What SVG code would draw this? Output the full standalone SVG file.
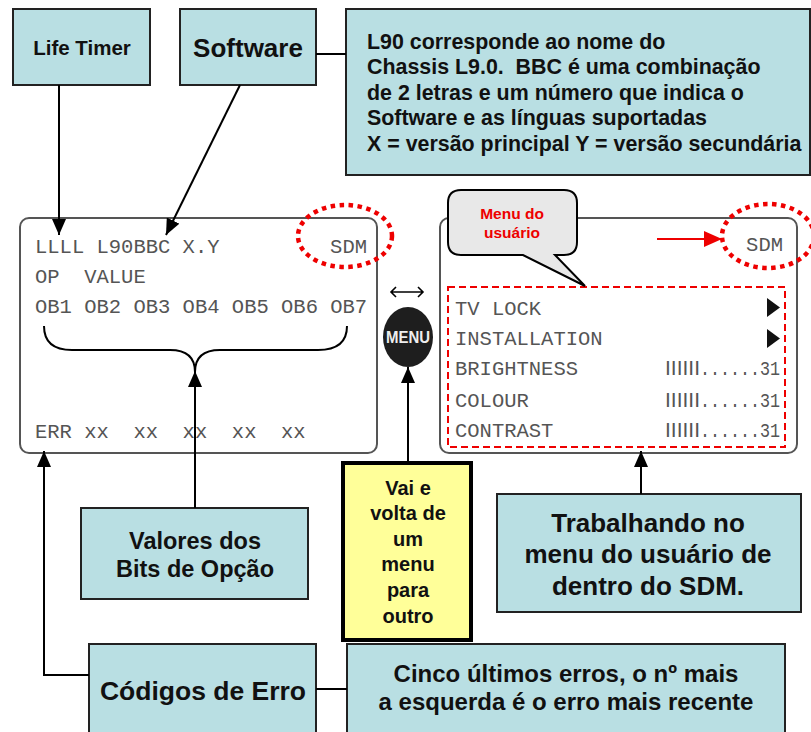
<svg xmlns="http://www.w3.org/2000/svg" width="811" height="732" viewBox="0 0 811 732">
  <style>
    .box { fill: #b9dfe3; stroke: #222; stroke-width: 2; }
    .note { fill: #ffff99; stroke: #000; stroke-width: 4; }
    .lbl { font-family: "Liberation Sans", Arial, sans-serif; font-weight: bold; fill: #111; text-anchor: middle; }
    .lft { font-family: "Liberation Sans", Arial, sans-serif; font-weight: bold; fill: #111; font-size: 21.4px; }
    .scr { fill: #fff; stroke: #555; stroke-width: 2; }
    .mono { font-family: "Liberation Mono", "Courier New", monospace; font-size: 20.5px; fill: #555; }
    .bar { font-family: "Liberation Sans", Arial, sans-serif; font-size: 21px; fill: #555; }
    .wire { fill: none; stroke: #000; stroke-width: 2; }
    .dots { fill: none; stroke: #e00; stroke-width: 4.5; stroke-dasharray: 4.5 4.5; }
    .red { font-family: "Liberation Sans", Arial, sans-serif; font-weight: bold; font-size: 15.5px; fill: #e00; text-anchor: middle; }
  </style>
  <defs>
    <marker id="ah" markerUnits="userSpaceOnUse" markerWidth="16" markerHeight="14" refX="16" refY="7" orient="auto">
      <path d="M0,0 L16,7 L0,14 Z" fill="#000"/>
    </marker>
    <marker id="ahRed" markerUnits="userSpaceOnUse" markerWidth="18" markerHeight="16" refX="18" refY="8" orient="auto">
      <path d="M0,0 L18,8 L0,16 Z" fill="#e00"/>
    </marker>
  </defs>

  <rect width="811" height="732" fill="#fff"/>

  <!-- left SDM screen -->
  <g id="screen-sdm">
    <rect class="scr" x="20" y="218" width="357" height="235" rx="9"/>
    <text class="mono" x="35" y="253">LLLL L90BBC X.Y</text>
    <text class="mono" x="367" y="253" text-anchor="end">SDM</text>
    <text class="mono" x="35" y="283" xml:space="preserve">OP  VALUE</text>
    <text class="mono" x="35" y="313">OB1 OB2 OB3 OB4 OB5 OB6 OB7</text>
    <text class="mono" x="35" y="438" xml:space="preserve">ERR xx  xx  xx  xx  xx</text>
    <path class="wire" d="M44,326 Q44,350 72,350 L170,350 Q195,350 195,372 Q195,350 220,350 L318,350 Q347,350 347,326"/>
    <ellipse class="dots" cx="345" cy="236" rx="47" ry="31"/>
  </g>

  <!-- right user-menu screen -->
  <g id="screen-menu">
    <rect class="scr" x="440" y="218" width="357" height="235" rx="9"/>
    <text class="mono" x="783" y="251" text-anchor="end">SDM</text>
    <ellipse class="dots" cx="768" cy="236" rx="46" ry="32"/>
    <rect x="448" y="287" width="337" height="160" fill="none" stroke="#e00" stroke-width="2" stroke-dasharray="7 4"/>
    <text class="mono" x="455" y="315">TV LOCK</text>
    <text class="mono" x="455" y="345">INSTALLATION</text>
    <text class="mono" x="455" y="375">BRIGHTNESS</text>
    <text class="mono" x="455" y="407">COLOUR</text>
    <text class="mono" x="455" y="437">CONTRAST</text>
    <polygon points="767,298 780,307.5 767,317" fill="#111"/>
    <polygon points="767,329 780,338.5 767,348" fill="#111"/>
    <text class="bar" x="665" y="375">IIIIII</text>
    <text class="mono" x="700" y="375" textLength="80" lengthAdjust="spacingAndGlyphs">......31</text>
    <text class="bar" x="665" y="407">IIIIII</text>
    <text class="mono" x="700" y="407" textLength="80" lengthAdjust="spacingAndGlyphs">......31</text>
    <text class="bar" x="665" y="437">IIIIII</text>
    <text class="mono" x="700" y="437" textLength="80" lengthAdjust="spacingAndGlyphs">......31</text>
  </g>

  <!-- callout bubble -->
  <g id="bubble">
    <path d="M461,190 H564 Q577,190 577,203 V242 Q577,255 564,255 H555 L585,286 L523,255 H461 Q448,255 448,242 V203 Q448,190 461,190 Z" fill="#e8e8e8" stroke="#000" stroke-width="2"/>
    <text class="red" x="512" y="219">Menu do</text>
    <text class="red" x="512" y="238">usuário</text>
  </g>

  <!-- menu button -->
  <g id="menu-button">
    <path d="M391,292 H423 M396,287 L391,292 L396,297 M418,287 L423,292 L418,297" fill="none" stroke="#000" stroke-width="1.6"/>
    <ellipse cx="408" cy="337" rx="25" ry="30" fill="#1e1e1e"/>
    <text x="408" y="343" font-family="Liberation Sans, Arial, sans-serif" font-weight="bold" font-size="16" fill="#eee" text-anchor="middle" textLength="44" lengthAdjust="spacingAndGlyphs">MENU</text>
  </g>

  <!-- label boxes -->
  <g id="life-timer">
    <rect class="box" x="13" y="9" width="137" height="76"/>
    <text class="lbl" x="82" y="55" font-size="20.5">Life Timer</text>
  </g>
  <g id="software">
    <rect class="box" x="180" y="9" width="136" height="76"/>
    <text class="lbl" x="248" y="57" font-size="26">Software</text>
  </g>
  <g id="software-note">
    <rect class="box" x="346" y="9" width="464" height="166"/>
    <text class="lft" x="367" y="49">L90 corresponde ao nome do</text>
    <text class="lft" x="367" y="74" xml:space="preserve">Chassis L9.0.  BBC é uma combinação</text>
    <text class="lft" x="367" y="100">de 2 letras e um número que indica o</text>
    <text class="lft" x="367" y="125">Software e as línguas suportadas</text>
    <text class="lft" x="367" y="151">X = versão principal Y = versão secundária</text>
  </g>
  <g id="option-bits">
    <rect class="box" x="81" y="508" width="227" height="91"/>
    <text class="lbl" x="195" y="549" font-size="23.5">Valores dos</text>
    <text class="lbl" x="195" y="577" font-size="23.5">Bits de Opção</text>
  </g>
  <g id="menu-note">
    <rect class="note" x="343" y="463" width="128" height="177"/>
    <text class="lbl" x="408" y="495" font-size="20">Vai e</text>
    <text class="lbl" x="408" y="520" font-size="20">volta de</text>
    <text class="lbl" x="408" y="546" font-size="20">um</text>
    <text class="lbl" x="408" y="571" font-size="20">menu</text>
    <text class="lbl" x="408" y="597" font-size="20">para</text>
    <text class="lbl" x="408" y="623" font-size="20">outro</text>
  </g>
  <g id="user-menu-note">
    <rect class="box" x="497" y="494" width="304" height="118"/>
    <text class="lbl" x="648" y="532" font-size="26">Trabalhando no</text>
    <text class="lbl" x="648" y="563" font-size="26">menu do usuário de</text>
    <text class="lbl" x="648" y="595" font-size="26">dentro do SDM.</text>
  </g>
  <g id="error-codes">
    <rect class="box" x="89" y="644" width="227" height="100"/>
    <text class="lbl" x="203" y="700" font-size="26.5">Códigos de Erro</text>
  </g>
  <g id="error-note">
    <rect class="box" x="347" y="644" width="438" height="100"/>
    <text class="lbl" x="566" y="682" font-size="24">Cinco últimos erros, o nº mais</text>
    <text class="lbl" x="566" y="710" font-size="24">a esquerda é o erro mais recente</text>
  </g>

  <!-- connectors -->
  <g id="connectors">
    <line class="wire" x1="59" y1="85" x2="59" y2="235" marker-end="url(#ah)"/>
    <line class="wire" x1="240" y1="85" x2="166" y2="235" marker-end="url(#ah)"/>
    <line class="wire" x1="316" y1="54" x2="346" y2="54"/>
    <line class="wire" x1="195" y1="508" x2="195" y2="371" marker-end="url(#ah)"/>
    <polyline class="wire" points="89,675 44,675 44,451" marker-end="url(#ah)"/>
    <line class="wire" x1="316" y1="689" x2="347" y2="689"/>
    <line class="wire" x1="408" y1="463" x2="408" y2="367" marker-end="url(#ah)"/>
    <line class="wire" x1="641" y1="494" x2="641" y2="451" marker-end="url(#ah)"/>
    <line x1="657" y1="239" x2="722" y2="239" stroke="#e00" stroke-width="2" marker-end="url(#ahRed)"/>
  </g>
</svg>
